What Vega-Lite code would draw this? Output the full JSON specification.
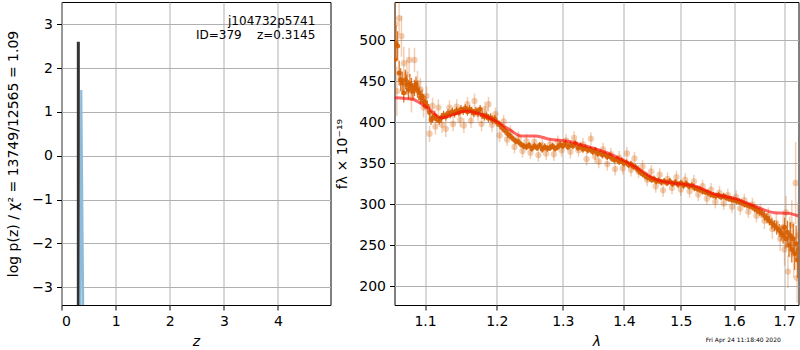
{
  "$schema": "https://vega.github.io/schema/vega-lite/v6.json",
  "padding": {"left": 5.5, "top": 1, "right": 0, "bottom": 0},
  "background": "white",
  "config": {
    "font": "DejaVu Sans",
    "view": {"stroke": "black", "strokeWidth": 1},
    "axis": {
      "domain": false, "grid": true, "gridColor": "#b0b0b0", "gridWidth": 1, "gridOpacity": 1,
      "tickColor": "black", "tickSize": 5, "tickWidth": 1,
      "labelFont": "DejaVu Sans", "labelFontSize": 14, "labelColor": "black", "labelPadding": 4,
      "titleFont": "DejaVu Sans", "titleFontSize": 14, "titleFontWeight": "normal", "titleColor": "black"
    }
  },
  "bounds": "flush",
  "spacing": 64,
  "datasets": {
    "pzbest": [{"z": 0.311, "lp": -3.404, "i": 0}, {"z": 0.311, "lp": 2.6, "i": 1}],
    "pzother": [{"z": 0.352, "lp": -3.404, "i": 0}, {"z": 0.365, "lp": 1.5, "i": 1}, {"z": 0.40, "lp": -3.404, "i": 2}],
    "label": [{"z": 4.69, "lp": 3.075, "t": "j104732p5741"}, {"z": 4.69, "lp": 2.75, "t": "ID=379\u00a0\u00a0\u00a0\u00a0z=0.3145"}],
    "stamp": [{"lam": 1.618, "f": 134.5, "t": "Fri Apr 24 11:18:40 2020"}],
    "model": [
      {"lam": 1.06, "f": 430}, {"lam": 1.0836, "f": 428}, {"lam": 1.0925, "f": 424}, {"lam": 1.1057, "f": 416},
      {"lam": 1.1215, "f": 405.6}, {"lam": 1.1329, "f": 407.7}, {"lam": 1.156, "f": 413.8}, {"lam": 1.17, "f": 411.7},
      {"lam": 1.198, "f": 401.6}, {"lam": 1.218, "f": 391.5}, {"lam": 1.236, "f": 383.3}, {"lam": 1.258, "f": 383.3},
      {"lam": 1.279, "f": 379.3}, {"lam": 1.311, "f": 376.5}, {"lam": 1.326, "f": 373.2}, {"lam": 1.342, "f": 370},
      {"lam": 1.371, "f": 363}, {"lam": 1.399, "f": 353.7}, {"lam": 1.429, "f": 341.5}, {"lam": 1.455, "f": 330.5},
      {"lam": 1.497, "f": 325}, {"lam": 1.525, "f": 322.3}, {"lam": 1.563, "f": 312.2}, {"lam": 1.607, "f": 306},
      {"lam": 1.64, "f": 297.9}, {"lam": 1.681, "f": 289.8}, {"lam": 1.708, "f": 289}, {"lam": 1.73, "f": 285.7}
    ],
    "light": [
      {"lam":1.061,"f":520,"e":30},{"lam":1.063,"f":438,"e":30},{"lam":1.066,"f":527,"e":20},{"lam":1.069,"f":505,"e":25},
      {"lam":1.072,"f":472,"e":20},{"lam":1.076,"f":458,"e":18},{"lam":1.079,"f":476,"e":15},{"lam":1.082,"f":430,"e":18},
      {"lam":1.086,"f":476,"e":15},{"lam":1.090,"f":448,"e":15},{"lam":1.094,"f":440,"e":14},{"lam":1.098,"f":418,"e":12},
      {"lam":1.102,"f":432,"e":12},{"lam":1.106,"f":386,"e":10},{"lam":1.110,"f":420,"e":10},{"lam":1.114,"f":395,"e":10},
      {"lam":1.118,"f":418,"e":10},{"lam":1.123,"f":397,"e":10},{"lam":1.128,"f":392,"e":10},{"lam":1.133,"f":418,"e":9},
      {"lam":1.138,"f":398,"e":9},{"lam":1.143,"f":419,"e":9},{"lam":1.148,"f":403,"e":9},{"lam":1.153,"f":396,"e":9},
      {"lam":1.158,"f":422,"e":9},{"lam":1.163,"f":402,"e":9},{"lam":1.168,"f":426,"e":9},{"lam":1.173,"f":410,"e":9},
      {"lam":1.178,"f":398,"e":9},{"lam":1.183,"f":416,"e":9},{"lam":1.188,"f":422,"e":9},{"lam":1.193,"f":397,"e":9},
      {"lam":1.198,"f":410,"e":8},{"lam":1.204,"f":384,"e":8},{"lam":1.210,"f":401,"e":8},{"lam":1.215,"f":379,"e":8},
      {"lam":1.220,"f":388,"e":8},{"lam":1.226,"f":370,"e":8},{"lam":1.232,"f":381,"e":8},{"lam":1.238,"f":365,"e":8},
      {"lam":1.244,"f":377,"e":8},{"lam":1.250,"f":363,"e":8},{"lam":1.256,"f":376,"e":8},{"lam":1.262,"f":360,"e":8},
      {"lam":1.268,"f":372,"e":8},{"lam":1.274,"f":362,"e":8},{"lam":1.280,"f":373,"e":8},{"lam":1.286,"f":361,"e":8},
      {"lam":1.292,"f":376,"e":8},{"lam":1.298,"f":366,"e":8},{"lam":1.305,"f":378,"e":8},{"lam":1.312,"f":364,"e":8},
      {"lam":1.318,"f":381,"e":8},{"lam":1.325,"f":366,"e":8},{"lam":1.332,"f":373,"e":8},{"lam":1.338,"f":355,"e":8},
      {"lam":1.345,"f":380,"e":8},{"lam":1.352,"f":358,"e":8},{"lam":1.358,"f":352,"e":8},{"lam":1.365,"f":367,"e":8},
      {"lam":1.372,"f":349,"e":8},{"lam":1.378,"f":361,"e":8},{"lam":1.385,"f":343,"e":8},{"lam":1.392,"f":357,"e":8},
      {"lam":1.398,"f":344,"e":8},{"lam":1.405,"f":362,"e":8},{"lam":1.412,"f":342,"e":8},{"lam":1.418,"f":356,"e":8},
      {"lam":1.425,"f":340,"e":8},{"lam":1.432,"f":346,"e":8},{"lam":1.440,"f":330,"e":8},{"lam":1.447,"f":340,"e":8},
      {"lam":1.455,"f":322,"e":8},{"lam":1.462,"f":336,"e":8},{"lam":1.468,"f":317,"e":8},{"lam":1.476,"f":331,"e":8},
      {"lam":1.484,"f":320,"e":8},{"lam":1.492,"f":333,"e":8},{"lam":1.500,"f":318,"e":8},{"lam":1.508,"f":330,"e":8},
      {"lam":1.516,"f":316,"e":8},{"lam":1.524,"f":328,"e":8},{"lam":1.532,"f":312,"e":8},{"lam":1.540,"f":322,"e":8},
      {"lam":1.548,"f":307,"e":8},{"lam":1.556,"f":318,"e":8},{"lam":1.564,"f":303,"e":8},{"lam":1.572,"f":314,"e":8},
      {"lam":1.580,"f":301,"e":8},{"lam":1.588,"f":311,"e":8},{"lam":1.596,"f":297,"e":8},{"lam":1.604,"f":309,"e":8},
      {"lam":1.612,"f":295,"e":8},{"lam":1.620,"f":305,"e":8},{"lam":1.628,"f":291,"e":8},{"lam":1.636,"f":300,"e":8},
      {"lam":1.644,"f":286,"e":8},{"lam":1.652,"f":292,"e":9},{"lam":1.660,"f":280,"e":10},{"lam":1.668,"f":286,"e":10},
      {"lam":1.676,"f":270,"e":12},{"lam":1.684,"f":277,"e":12},{"lam":1.692,"f":258,"e":15},{"lam":1.698,"f":272,"e":18},
      {"lam":1.701,"f":245,"e":20},{"lam":1.704,"f":290,"e":20},{"lam":1.708,"f":218,"e":20},{"lam":1.712,"f":260,"e":25},
      {"lam":1.716,"f":275,"e":30},{"lam":1.720,"f":240,"e":30},{"lam":1.724,"f":326,"e":50},{"lam":1.727,"f":210,"e":30},
      {"lam":1.729,"f":262,"e":40}
    ],
    "dark": [
      {"lam":1.060,"f":477,"e":20},{"lam":1.062,"f":496,"e":22},{"lam":1.064,"f":493,"e":18},{"lam":1.066,"f":460,"e":15},
      {"lam":1.068,"f":452,"e":14},{"lam":1.070,"f":448,"e":14},{"lam":1.072,"f":436,"e":12},{"lam":1.074,"f":452,"e":12},
      {"lam":1.076,"f":446,"e":12},{"lam":1.078,"f":440,"e":12},{"lam":1.080,"f":447,"e":12},{"lam":1.082,"f":444,"e":10},
      {"lam":1.084,"f":438,"e":10},{"lam":1.086,"f":442,"e":10},{"lam":1.088,"f":446,"e":10},{"lam":1.090,"f":440,"e":10},
      {"lam":1.092,"f":436,"e":9},{"lam":1.094,"f":430,"e":8},{"lam":1.096,"f":432,"e":8},{"lam":1.098,"f":426,"e":8},
      {"lam":1.100,"f":424,"e":8},{"lam":1.103,"f":420,"e":7},{"lam":1.106,"f":412,"e":7},{"lam":1.108,"f":403,"e":6},
      {"lam":1.110,"f":405,"e":6},{"lam":1.113,"f":408,"e":6},{"lam":1.116,"f":404,"e":5},{"lam":1.119,"f":402,"e":5},
      {"lam":1.122,"f":406,"e":5},{"lam":1.125,"f":409,"e":5},{"lam":1.128,"f":407,"e":5},{"lam":1.131,"f":411,"e":5},
      {"lam":1.134,"f":410,"e":5},{"lam":1.137,"f":413,"e":5},{"lam":1.140,"f":411,"e":5},{"lam":1.143,"f":414,"e":5},
      {"lam":1.146,"f":412,"e":5},{"lam":1.149,"f":416,"e":5},{"lam":1.152,"f":414,"e":5},{"lam":1.155,"f":417,"e":5},
      {"lam":1.158,"f":413,"e":5},{"lam":1.161,"f":416,"e":5},{"lam":1.164,"f":414,"e":5},{"lam":1.167,"f":411,"e":5},
      {"lam":1.170,"f":414,"e":5},{"lam":1.173,"f":412,"e":5},{"lam":1.176,"f":416,"e":5},{"lam":1.179,"f":409,"e":5},
      {"lam":1.182,"f":407,"e":5},{"lam":1.185,"f":408,"e":5},{"lam":1.188,"f":405,"e":5},{"lam":1.191,"f":406,"e":5},
      {"lam":1.194,"f":403,"e":5},{"lam":1.197,"f":404,"e":5},{"lam":1.200,"f":400,"e":5},{"lam":1.204,"f":397,"e":5},
      {"lam":1.208,"f":393,"e":5},{"lam":1.212,"f":390,"e":5},{"lam":1.216,"f":386,"e":5},{"lam":1.220,"f":383,"e":4},
      {"lam":1.224,"f":380,"e":4},{"lam":1.228,"f":377,"e":4},{"lam":1.232,"f":376,"e":4},{"lam":1.236,"f":373,"e":4},
      {"lam":1.240,"f":371,"e":4},{"lam":1.244,"f":370,"e":4},{"lam":1.248,"f":372,"e":4},{"lam":1.252,"f":368,"e":4},
      {"lam":1.256,"f":371,"e":4},{"lam":1.260,"f":369,"e":4},{"lam":1.264,"f":372,"e":4},{"lam":1.268,"f":367,"e":4},
      {"lam":1.272,"f":370,"e":4},{"lam":1.276,"f":368,"e":4},{"lam":1.280,"f":369,"e":4},{"lam":1.284,"f":371,"e":4},
      {"lam":1.288,"f":368,"e":4},{"lam":1.292,"f":370,"e":4},{"lam":1.296,"f":373,"e":4},{"lam":1.300,"f":371,"e":4},
      {"lam":1.304,"f":374,"e":4},{"lam":1.308,"f":370,"e":4},{"lam":1.312,"f":373,"e":4},{"lam":1.316,"f":371,"e":4},
      {"lam":1.320,"f":374,"e":4},{"lam":1.324,"f":369,"e":4},{"lam":1.328,"f":371,"e":4},{"lam":1.332,"f":367,"e":4},
      {"lam":1.336,"f":369,"e":4},{"lam":1.340,"f":366,"e":4},{"lam":1.344,"f":367,"e":4},{"lam":1.348,"f":364,"e":4},
      {"lam":1.352,"f":366,"e":4},{"lam":1.356,"f":362,"e":4},{"lam":1.360,"f":363,"e":4},{"lam":1.364,"f":360,"e":4},
      {"lam":1.368,"f":361,"e":4},{"lam":1.372,"f":358,"e":4},{"lam":1.376,"f":359,"e":4},{"lam":1.380,"f":356,"e":4},
      {"lam":1.384,"f":354,"e":4},{"lam":1.388,"f":355,"e":4},{"lam":1.392,"f":352,"e":4},{"lam":1.396,"f":353,"e":4},
      {"lam":1.400,"f":350,"e":4},{"lam":1.404,"f":351,"e":4},{"lam":1.408,"f":348,"e":4},{"lam":1.412,"f":349,"e":4},
      {"lam":1.416,"f":346,"e":4},{"lam":1.420,"f":345,"e":4},{"lam":1.424,"f":342,"e":4},{"lam":1.428,"f":339,"e":4},
      {"lam":1.432,"f":337,"e":4},{"lam":1.436,"f":335,"e":4},{"lam":1.440,"f":333,"e":4},{"lam":1.444,"f":332,"e":4},
      {"lam":1.448,"f":330,"e":4},{"lam":1.452,"f":331,"e":4},{"lam":1.456,"f":328,"e":4},{"lam":1.460,"f":329,"e":4},
      {"lam":1.465,"f":327,"e":4},{"lam":1.470,"f":328,"e":4},{"lam":1.475,"f":326,"e":4},{"lam":1.480,"f":328,"e":4},
      {"lam":1.485,"f":325,"e":4},{"lam":1.490,"f":327,"e":4},{"lam":1.495,"f":324,"e":4},{"lam":1.500,"f":326,"e":4},
      {"lam":1.505,"f":323,"e":4},{"lam":1.510,"f":325,"e":4},{"lam":1.515,"f":322,"e":4},{"lam":1.520,"f":323,"e":4},
      {"lam":1.525,"f":320,"e":4},{"lam":1.530,"f":319,"e":4},{"lam":1.535,"f":318,"e":4},{"lam":1.540,"f":316,"e":4},
      {"lam":1.545,"f":315,"e":4},{"lam":1.550,"f":314,"e":4},{"lam":1.555,"f":312,"e":4},{"lam":1.560,"f":311,"e":4},
      {"lam":1.565,"f":310,"e":4},{"lam":1.570,"f":311,"e":4},{"lam":1.575,"f":309,"e":4},{"lam":1.580,"f":310,"e":4},
      {"lam":1.585,"f":308,"e":4},{"lam":1.590,"f":307,"e":4},{"lam":1.595,"f":306,"e":4},{"lam":1.600,"f":305,"e":4},
      {"lam":1.605,"f":304,"e":4},{"lam":1.610,"f":303,"e":4},{"lam":1.615,"f":302,"e":4},{"lam":1.620,"f":300,"e":4},
      {"lam":1.625,"f":299,"e":4},{"lam":1.630,"f":298,"e":4},{"lam":1.635,"f":297,"e":4},{"lam":1.640,"f":295,"e":5},
      {"lam":1.645,"f":293,"e":5},{"lam":1.650,"f":291,"e":5},{"lam":1.655,"f":289,"e":5},{"lam":1.660,"f":286,"e":6},
      {"lam":1.665,"f":283,"e":6},{"lam":1.670,"f":280,"e":6},{"lam":1.675,"f":277,"e":7},{"lam":1.680,"f":274,"e":7},
      {"lam":1.685,"f":271,"e":8},{"lam":1.690,"f":268,"e":8},{"lam":1.694,"f":265,"e":9},{"lam":1.698,"f":262,"e":10},
      {"lam":1.701,"f":272,"e":12},{"lam":1.704,"f":258,"e":12},{"lam":1.707,"f":266,"e":14},{"lam":1.710,"f":250,"e":14},
      {"lam":1.713,"f":262,"e":16},{"lam":1.716,"f":245,"e":16},{"lam":1.719,"f":258,"e":18},{"lam":1.722,"f":240,"e":20},
      {"lam":1.725,"f":252,"e":22},{"lam":1.728,"f":232,"e":22},{"lam":1.730,"f":245,"e":25}
    ]
  },
  "hconcat": [
    {
      "width": 269,
      "height": 303,
      "layer": [
        {
          "data": {"name": "pzbest"},
          "mark": {"type": "line", "color": "#333333", "strokeWidth": 3, "strokeCap": "butt", "clip": true},
          "encoding": {
            "x": {"field": "z", "type": "quantitative",
                  "scale": {"domain": [0, 4.97], "nice": false, "zero": false},
                  "axis": {"values": [0, 1, 2, 3, 4], "format": "d", "title": "z", "titleFontStyle": "italic", "titlePadding": 6}},
            "y": {"field": "lp", "type": "quantitative",
                  "scale": {"domain": [-3.404, 3.509], "nice": false, "zero": false},
                  "axis": {"values": [-3, -2, -1, 0, 1, 2, 3], "format": "d", "title": "log p(z) / χ² = 13749/12565 = 1.09", "titlePadding": 11.4}},
            "order": {"field": "i", "type": "quantitative"}
          }
        },
        {
          "data": {"name": "pzother"},
          "mark": {"type": "line", "color": "#8fbbda", "strokeWidth": 2.2, "clip": true},
          "encoding": {
            "x": {"field": "z", "type": "quantitative"},
            "y": {"field": "lp", "type": "quantitative"},
            "order": {"field": "i", "type": "quantitative"}
          }
        },
        {
          "data": {"name": "label"},
          "mark": {"type": "text", "align": "right", "baseline": "middle", "fontSize": 12, "color": "black"},
          "encoding": {
            "x": {"field": "z", "type": "quantitative"},
            "y": {"field": "lp", "type": "quantitative"},
            "text": {"field": "t", "type": "nominal"}
          }
        }
      ]
    },
    {
      "width": 404,
      "height": 303,
      "layer": [
        {
          "data": {"name": "light"},
          "mark": {"type": "errorbar", "color": "#D55E00", "opacity": 0.3, "thickness": 1.5, "clip": true},
          "encoding": {
            "x": {"field": "lam", "type": "quantitative",
                  "scale": {"type": "log", "domain": [1.06, 1.73], "nice": false, "zero": false},
                  "axis": {"values": [1.1, 1.2, 1.3, 1.4, 1.5, 1.6, 1.7], "format": ".1f", "title": "λ", "titleFontStyle": "italic", "titlePadding": 6}},
            "y": {"field": "f", "type": "quantitative",
                  "scale": {"domain": [177.2, 546.7], "nice": false, "zero": false},
                  "axis": {"values": [200, 250, 300, 350, 400, 450, 500], "format": "d", "title": "fλ × 10⁻¹⁹", "titlePadding": 9}},
            "yError": {"field": "e"}
          }
        },
        {
          "data": {"name": "light"},
          "mark": {"type": "point", "filled": true, "shape": "circle", "size": 40, "color": "#D55E00", "opacity": 0.3, "clip": true},
          "encoding": {
            "x": {"field": "lam", "type": "quantitative", "title": "λ"},
            "y": {"field": "f", "type": "quantitative", "title": "fλ × 10⁻¹⁹"}
          }
        },
        {
          "data": {"name": "dark"},
          "mark": {"type": "errorbar", "color": "#D55E00", "opacity": 0.85, "thickness": 1.3, "clip": true},
          "encoding": {
            "x": {"field": "lam", "type": "quantitative", "title": "λ"},
            "y": {"field": "f", "type": "quantitative", "title": "fλ × 10⁻¹⁹"},
            "yError": {"field": "e"}
          }
        },
        {
          "data": {"name": "dark"},
          "mark": {"type": "point", "filled": true, "shape": "circle", "size": 25, "color": "#D55E00", "opacity": 0.9, "clip": true},
          "encoding": {
            "x": {"field": "lam", "type": "quantitative", "title": "λ"},
            "y": {"field": "f", "type": "quantitative", "title": "fλ × 10⁻¹⁹"}
          }
        },
        {
          "data": {"name": "model"},
          "mark": {"type": "line", "color": "red", "strokeWidth": 3, "opacity": 0.6, "interpolate": "monotone", "clip": true},
          "encoding": {
            "x": {"field": "lam", "type": "quantitative", "title": "λ"},
            "y": {"field": "f", "type": "quantitative", "title": "fλ × 10⁻¹⁹"}
          }
        },
        {
          "data": {"name": "stamp"},
          "mark": {"type": "text", "align": "center", "baseline": "middle", "fontSize": 6, "color": "black"},
          "encoding": {
            "x": {"field": "lam", "type": "quantitative", "title": "λ"},
            "y": {"field": "f", "type": "quantitative", "title": "fλ × 10⁻¹⁹"},
            "text": {"field": "t", "type": "nominal"}
          }
        }
      ]
    }
  ]
}
